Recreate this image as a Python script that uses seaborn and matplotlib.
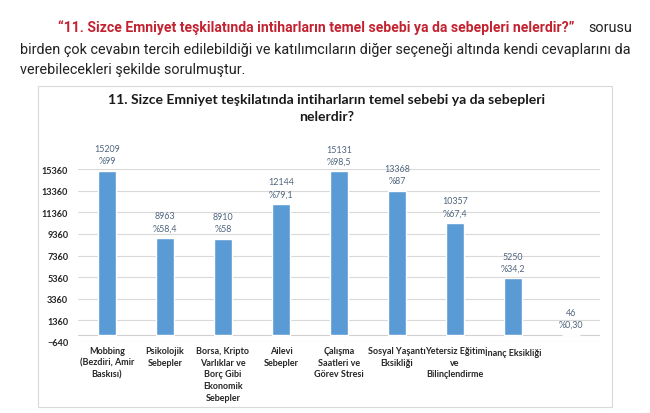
import numpy as np
import matplotlib
matplotlib.use("Agg")
import matplotlib.pyplot as plt
import seaborn as sns
import pandas as pd
from matplotlib.patches import Rectangle

# Chart data
categories = [
    "Mobbing\n(Bezdiri, Amir\nBaskısı)",
    "Psikolojik\nSebepler",
    "Borsa, Kripto\nVarlıklar ve\nBorç Gibi\nEkonomik\nSebepler",
    "Ailevi\nSebepler",
    "Çalışma\nSaatleri ve\nGörev Stresi",
    "Sosyal Yaşantı\nEksikliği",
    "Yetersiz Eğitim\nve\nBilinçlendirme",
    "İnanç Eksikliği",
    "",
]
counts = [15209, 8963, 8910, 12144, 15131, 13368, 10357, 5250, 46]
percents = ["%99", "%58,4", "%58", "%79,1", "%98,5", "%87", "%67,4", "%34,2", "%0,30"]
yticks = [-640, 1360, 3360, 5360, 7360, 9360, 11360, 13360, 15360]

title = "11. Sizce Emniyet teşkilatında intiharların temel sebebi ya da sebepleri\nnelerdir?"
intro_red = "“11. Sizce Emniyet teşkilatında intiharların temel sebebi ya da sebepleri nelerdir?”"
intro_tail = "sorusu"
intro_line2 = "birden çok cevabın tercih edilebildiği ve katılımcıların diğer seçeneği altında kendi cevaplarını da"
intro_line3 = "verebilecekleri şekilde sorulmuştur."

df = pd.DataFrame({"neden": categories, "sayi": counts})

sns.set_theme(style="white")
plt.rcParams["font.family"] = ["Lato", "DejaVu Sans"]

fig = plt.figure(figsize=(6.5, 4.14), dpi=100)
fig.patch.set_facecolor("white")

# chart frame
fig.patches.append(Rectangle((38 / 650, 1 - 408 / 414), (612 - 38) / 650, (408 - 87) / 414,
                             transform=fig.transFigure, fill=False,
                             edgecolor="#d9d9d9", linewidth=0.8))

# intro paragraph above the chart
body_font = ["Roboto", "DejaVu Sans"]
body_size = 10.4
fig.text(58 / 650, 1 - 28 / 414, intro_red, color="#c42230", fontsize=10.1,
         fontweight="bold", family=body_font, ha="left", va="center")
fig.text(632 / 650, 1 - 28 / 414, intro_tail, color="#222222", fontsize=body_size,
         family=body_font, ha="right", va="center")
fig.text(20 / 650, 1 - 50 / 414, intro_line2, color="#222222", fontsize=body_size,
         family=body_font, ha="left", va="center")
fig.text(20 / 650, 1 - 70 / 414, intro_line3, color="#222222", fontsize=body_size,
         family=body_font, ha="left", va="center")

fig.text(327 / 650, 1 - 108.5 / 414, title, fontsize=10.1, fontweight="bold",
         color="#1a1a1a", ha="center", va="center", linespacing=1.45)

ax = fig.add_axes([78 / 650, 1 - 343 / 414, (600 - 78) / 650, (343 - 170) / 414])
sns.barplot(data=df, x="neden", y="sayi", color="#5b9bd5", width=0.3,
            saturation=1, ax=ax)

ax.set_ylim(yticks[0], yticks[-1])
ax.set_yticks(yticks)
ax.grid(axis="y", color="#d9d9d9", linewidth=0.8)
ax.set_axisbelow(True)
ax.axhline(0, color="#d0d0d0", linewidth=0.8, zorder=0.5)
for s in ax.spines.values():
    s.set_visible(False)
ax.set_xlabel("")
ax.set_ylabel("")
ax.tick_params(axis="both", length=0)
ax.tick_params(axis="y", pad=7)
ax.tick_params(axis="x", pad=3)
for lab in ax.get_yticklabels():
    lab.set_fontsize(6.6)
    lab.set_fontweight("bold")
    lab.set_color("#262626")
for lab in ax.get_xticklabels():
    lab.set_fontsize(6.5)
    lab.set_fontweight("bold")
    lab.set_color("#262626")
    lab.set_linespacing(1.38)

for i, (c, p) in enumerate(zip(counts, percents)):
    ax.annotate(f"{c}\n{p}", xy=(i, c), xytext=(0, 4), textcoords="offset points",
                ha="center", va="bottom", fontsize=6.4, color="#50657e",
                linespacing=1.45, annotation_clip=False)

fig.savefig("out.png", dpi=100, facecolor="white")
